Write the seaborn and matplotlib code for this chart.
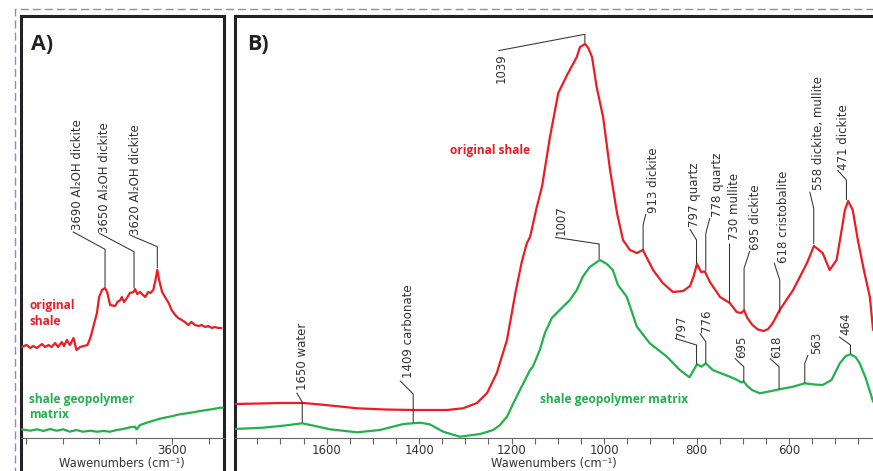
import matplotlib
matplotlib.use("Agg")
import matplotlib.pyplot as plt
import seaborn as sns
import pandas as pd
from matplotlib.ticker import MultipleLocator, FixedLocator
from matplotlib.patches import Rectangle

# ---------------- data ----------------
# Panel A (OH stretching region)
a_red_wn = [3806, 3799, 3794, 3790, 3785, 3778, 3774, 3769, 3765, 3760,
            3756, 3751, 3748, 3744, 3740, 3735, 3731, 3726, 3716, 3712,
            3708, 3703, 3700, 3696, 3692, 3689, 3685, 3678, 3675, 3671,
            3669, 3666, 3662, 3658, 3653, 3651, 3648, 3644, 3640, 3637,
            3633, 3630, 3626, 3623, 3620.5, 3618, 3614, 3610, 3605, 3601,
            3596, 3592, 3587, 3583, 3578, 3574, 3569, 3564, 3560, 3555,
            3551, 3546, 3542, 3537, 3533]
a_red_abs = [0.91, 0.93, 0.90, 0.92, 0.90, 0.94, 0.91, 0.93, 0.91, 0.95,
             0.91, 0.96, 0.92, 0.98, 0.93, 1.00, 0.88, 0.91, 0.93, 1.00,
             1.11, 1.25, 1.41, 1.48, 1.50, 1.46, 1.33, 1.32, 1.36, 1.38,
             1.41, 1.36, 1.40, 1.45, 1.46, 1.49, 1.44, 1.46, 1.43, 1.41,
             1.46, 1.45, 1.48, 1.58, 1.68, 1.58, 1.46, 1.41, 1.35, 1.28,
             1.23, 1.20, 1.18, 1.16, 1.13, 1.16, 1.13, 1.12, 1.13, 1.11,
             1.12, 1.10, 1.11, 1.10, 1.10]

a_green_wn = [3806, 3794, 3785, 3776, 3767, 3758, 3749, 3740, 3731, 3722,
              3712, 3703, 3694, 3685, 3676, 3667, 3658, 3651, 3649, 3644,
              3635, 3626, 3617, 3608, 3599, 3590, 3580, 3571, 3562, 3553,
              3544, 3535, 3531]
a_green_abs = [0.087, 0.073, 0.087, 0.070, 0.090, 0.073, 0.087, 0.063, 0.080, 0.063,
               0.073, 0.063, 0.070, 0.063, 0.080, 0.090, 0.107, 0.113, 0.087, 0.130,
               0.153, 0.173, 0.193, 0.207, 0.220, 0.237, 0.247, 0.257, 0.270, 0.280,
               0.290, 0.303, 0.303]

# Panel B (fingerprint region)
b_red_wn = [1800, 1744, 1700, 1651, 1614, 1571, 1534, 1474, 1413, 1340,
            1305, 1275, 1253, 1232, 1210, 1191, 1178, 1167, 1160, 1147,
            1134, 1117, 1099, 1080, 1059, 1052, 1041, 1034, 1026, 1016,
            1002, 987, 972, 959, 944, 929, 916, 894, 873, 851,
            829, 814, 806, 799, 790, 782, 771, 749, 728, 713,
            704, 697, 690, 679, 667, 655, 645, 635, 620, 591,
            561, 546, 527, 512, 497, 486, 479, 472, 462, 451,
            438, 425, 418]
b_red_abs = [0.34, 0.345, 0.35, 0.35, 0.335, 0.315, 0.297, 0.285, 0.28, 0.28,
             0.297, 0.35, 0.45, 0.65, 0.98, 1.47, 1.76, 1.95, 2.01, 2.28,
             2.52, 3.01, 3.45, 3.63, 3.81, 3.91, 3.94, 3.90, 3.81, 3.51,
             3.21, 2.68, 2.25, 1.98, 1.88, 1.85, 1.88, 1.68, 1.55, 1.46,
             1.47, 1.52, 1.62, 1.74, 1.66, 1.665, 1.56, 1.41, 1.35, 1.26,
             1.25, 1.275, 1.20, 1.13, 1.085, 1.07, 1.09, 1.15, 1.28, 1.48,
             1.75, 1.92, 1.85, 1.68, 1.78, 2.08, 2.28, 2.37, 2.28, 1.98,
             1.68, 1.41, 1.08]

b_green_wn = [1800, 1738, 1690, 1653, 1625, 1593, 1534, 1485, 1434, 1398,
              1377, 1348, 1312, 1268, 1240, 1225, 1210, 1197, 1182, 1160,
              1154, 1139, 1128, 1113, 1096, 1074, 1059, 1046, 1031, 1009,
              994, 981, 970, 951, 929, 901, 864, 836, 815, 806,
              799, 789, 780, 765, 728, 712, 703, 698, 690, 680,
              663, 635, 621, 591, 566, 544, 527, 508, 490, 477,
              467, 456, 447, 434, 418]
b_green_abs = [0.09, 0.103, 0.125, 0.147, 0.12, 0.087, 0.057, 0.08, 0.14, 0.153,
               0.137, 0.063, 0.013, 0.04, 0.08, 0.13, 0.213, 0.34, 0.48, 0.68,
               0.713, 0.88, 1.05, 1.20, 1.28, 1.38, 1.48, 1.613, 1.71, 1.78,
               1.74, 1.68, 1.53, 1.413, 1.113, 0.947, 0.813, 0.68, 0.607, 0.68,
               0.737, 0.713, 0.747, 0.68, 0.613, 0.58, 0.555, 0.565, 0.52, 0.48,
               0.447, 0.473, 0.487, 0.513, 0.547, 0.535, 0.53, 0.58, 0.747, 0.82,
               0.837, 0.81, 0.747, 0.60, 0.363]

a_tick_labels = [3600]
b_tick_labels = [1600, 1400, 1200, 1000, 800, 600]

# peak labels: (text, leader polyline, text x, text bottom y)
a_peak_labels = ["3690 Al\u2082OH dickite", "3650 Al\u2082OH dickite", "3620 Al\u2082OH dickite"]
a_peak_layout = [
    ([(3691.9, 1.51), (3691.9, 1.887), (3736.1, 2.063)], 3729.2, 2.08),
    ([(3652.3, 1.50), (3652.3, 1.863), (3699.7, 2.047)], 3693.3, 2.047),
    ([(3620.5, 1.697), (3620.5, 1.913), (3657.8, 2.03)], 3650.3, 2.03),
]
b_peak_labels = ["1039", "1007", "1650 water", "1409 carbonate", "913 dickite",
                 "797 quartz", "778 quartz", "730 mullite", "695 dickite",
                 "618 cristobalite", "558 dickite, mullite", "471 dickite",
                 "797", "776", "695", "618", "563", "464"]
b_peak_layout = [
    ([(1041.5, 3.95), (1041.5, 4.037), (1228.9, 3.873)], 1221.6, 3.55),
    ([(1010.6, 1.787), (1010.6, 1.94), (1106.4, 2.007)], 1091.9, 2.03),
    ([(1652.8, 0.153), (1652.8, 0.357), (1664.9, 0.453)], 1651.9, 0.48),
    ([(1412.8, 0.153), (1412.8, 0.44), (1441.5, 0.573)], 1423.6, 0.597),
    ([(915.5, 1.88), (915.5, 2.13), (909.6, 2.24)], 892.3, 2.247),
    ([(800.0, 1.74), (800.0, 1.98), (814.5, 2.09)], 803.7, 2.107),
    ([(779.9, 1.673), (779.9, 2.047), (771.2, 2.20)], 755.5, 2.213),
    ([(729.5, 1.347), (729.5, 1.95)], 717.2, 1.98),
    ([(697.1, 1.28), (697.1, 1.697), (684.8, 1.87)], 671.8, 1.88),
    ([(619.9, 1.247), (619.9, 1.58), (632.2, 1.753)], 612.7, 1.747),
    ([(546.4, 1.94), (546.4, 2.297), (555.0, 2.463)], 537.1, 2.48),
    ([(475.7, 2.38), (475.7, 2.58), (495.1, 2.68)], 481.5, 2.68),
    ([(800.0, 0.737), (800.0, 0.93), (846.9, 0.997)], 832.4, 0.997),
    ([(779.9, 0.747), (779.9, 0.963), (792.9, 1.047)], 778.4, 1.063),
    ([(697.7, 0.563), (697.7, 0.713), (717.1, 0.797)], 702.7, 0.797),
    ([(621.4, 0.487), (621.4, 0.713), (641.5, 0.797)], 627.0, 0.797),
    ([(565.8, 0.547), (565.8, 0.747), (558.7, 0.83)], 540.5, 0.84),
    ([(467.0, 0.84), (467.0, 0.93), (491.7, 1.013)], 477.2, 1.03),
]

RED = "#ec1c24"
GREEN = "#22b14c"
TXT = "#333333"

# ---------------- figure ----------------
sns.set_style("white")
plt.rcParams['font.family'] = ['DejaVu Sans']

W, H = 873, 471
fig = plt.figure(figsize=(W / 100, H / 100), dpi=100)


def fx(px):
    return px / W


def fy(py):
    return 1 - py / H


# dashed outer border
fig.patches.append(Rectangle((fx(15), fy(700)), fx(1200), fy(9) - fy(700),
                             transform=fig.transFigure, fill=False, ec='#8e8eaa',
                             lw=1.0, ls=(0, (5.8, 2.9)), zorder=0))


def frame(left_px, right_px):
    ax = fig.add_axes([fx(left_px), fy(560), fx(right_px) - fx(left_px), fy(16) - fy(560)])
    ax.set_xticks([])
    ax.set_yticks([])
    ax.patch.set_alpha(0)
    for s in ax.spines.values():
        s.set_visible(True)
        s.set_linewidth(2.2)
        s.set_color('#222222')
    return ax


frame(20.5, 224)
frame(234.5, 1100)


def inner(left_px, right_px):
    ax = fig.add_axes([fx(left_px), fy(438), fx(right_px) - fx(left_px), fy(16) - fy(438)])
    ax.patch.set_alpha(0)
    for k in ('top', 'left', 'right'):
        ax.spines[k].set_visible(False)
    ax.spines['bottom'].set_color('#666666')
    ax.spines['bottom'].set_linewidth(0.8)
    return ax


axA = inner(20.5, 224)
axB = inner(234.5, 873)

dfA_red = pd.DataFrame({'wn': a_red_wn, 'abs': a_red_abs})
dfA_green = pd.DataFrame({'wn': a_green_wn, 'abs': a_green_abs})
dfB_red = pd.DataFrame({'wn': b_red_wn, 'abs': b_red_abs})
dfB_green = pd.DataFrame({'wn': b_green_wn, 'abs': b_green_abs})

for ax, dr, dg in ((axA, dfA_red, dfA_green), (axB, dfB_red, dfB_green)):
    sns.lineplot(data=dr, x='wn', y='abs', ax=ax, color=RED, lw=1.6,
                 estimator=None, sort=False)
    sns.lineplot(data=dg, x='wn', y='abs', ax=ax, color=GREEN, lw=1.6,
                 estimator=None, sort=False)
    ax.set_ylim(0, 4.22)
    ax.set_yticks([])
    ax.set_ylabel('')
    ax.set_xlabel('Wawenumbers (cm\u207b\u00b9)', fontsize=8.3, color=TXT)
    ax.xaxis.set_label_coords(0.5, -0.045)
    ax.xaxis.label.set_va('top')
    ax.xaxis.set_minor_locator(MultipleLocator(50))
    ax.tick_params(axis='x', which='both', direction='out', length=4, width=0.8,
                   color='#666666', labelsize=8.5, labelcolor=TXT, pad=0.5,
                   bottom=True)

axA.set_xlim(3807.4, 3529.4)
axA.xaxis.set_major_locator(FixedLocator(a_tick_labels))
axB.set_xlim(1799.4, 418.2)
axB.xaxis.set_major_locator(FixedLocator(b_tick_labels))


def annotate(ax, label, pts, tx, ty):
    xs = [p[0] for p in pts]
    ys = [p[1] for p in pts]
    ax.plot(xs, ys, color='#333333', lw=0.75, solid_capstyle='butt', clip_on=False)
    ax.text(tx, ty, label, rotation=90, ha='center', va='bottom', fontsize=8.5,
            color=TXT)


for lab, (pts, tx, ty) in zip(a_peak_labels, a_peak_layout):
    annotate(axA, lab, pts, tx, ty)
for lab, (pts, tx, ty) in zip(b_peak_labels, b_peak_layout):
    annotate(axB, lab, pts, tx, ty)

# series labels
lab_font = dict(fontweight='bold', fontsize=8.6, family=['Open Sans', 'DejaVu Sans'])
axA.text(3795.4, 1.247, 'original\nshale', color=RED, va='center', ha='left',
         linespacing=1.3, **lab_font)
axA.text(3795.4, 0.305, 'shale geopolymer\nmatrix', color=GREEN, va='center', ha='left',
         linespacing=1.2, **lab_font)
axB.text(1333.4, 2.873, 'original shale', color=RED, va='center', ha='left', **lab_font)
axB.text(1138.8, 0.38, 'shale geopolymer matrix', color=GREEN, va='center', ha='left',
         **lab_font)

# panel letters
fig.text(fx(31), fy(45), 'A)', fontsize=15.5, fontweight='bold', va='center', ha='left',
         color='#222222', family=['Open Sans', 'DejaVu Sans'])
fig.text(fx(247), fy(45), 'B)', fontsize=15.5, fontweight='bold', va='center', ha='left',
         color='#222222', family=['Open Sans', 'DejaVu Sans'])

fig.savefig('out.png', dpi=100)
